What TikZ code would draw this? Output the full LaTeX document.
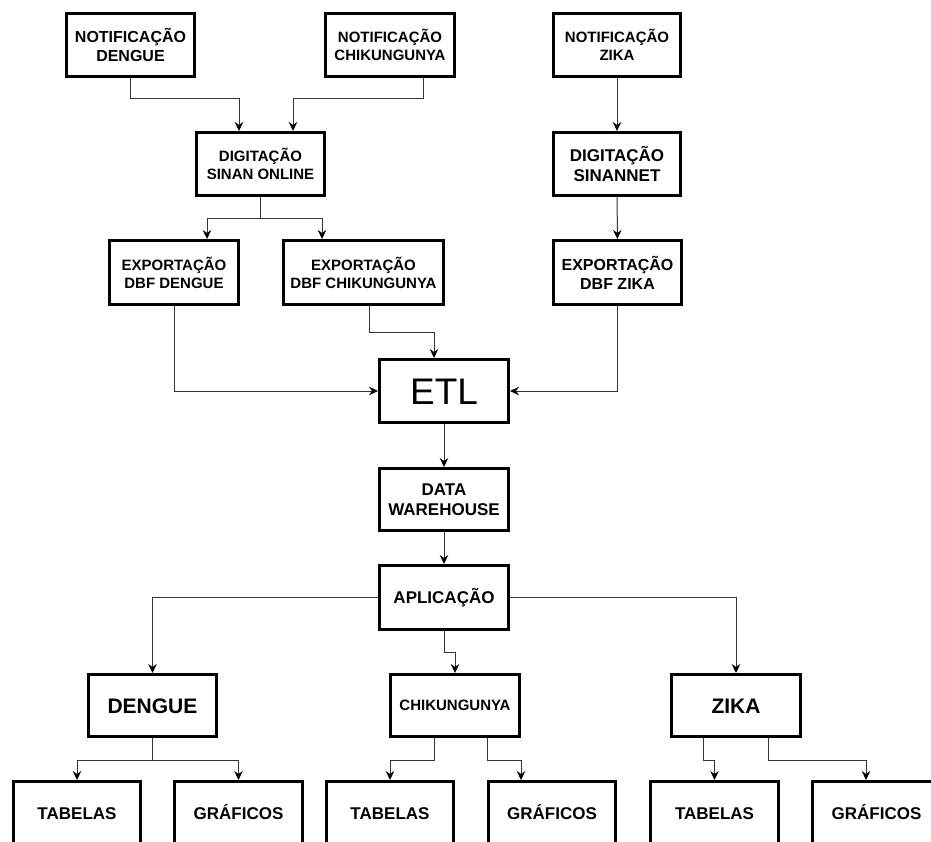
\documentclass[tikz,border=0pt]{standalone}
\usepackage{fontspec}
\setmainfont{Liberation Sans}
\usetikzlibrary{arrows.meta}
\tikzset{
  box/.style={draw=black, line width=3pt, rectangle, inner sep=0pt, align=center, font=\bfseries\fontsize{15}{18}\selectfont},
  one/.style={text height=#1, text depth=0pt},
  conn/.style={draw=black!80, line width=1pt, -{Stealth[length=9pt,width=8.5pt,inset=3pt,color=black]}},
}
\begin{document}
\begin{tikzpicture}[x=1pt,y=-1pt]
\useasboundingbox (0,0) rectangle (931,842);
\clip (0,0) rectangle (931,842);
\fill[white] (0,0) rectangle (931,842);
% row 1
\node[box, minimum width=128pt, minimum height=63pt, font=\bfseries\fontsize{16}{19}\selectfont] (nd) at (130.5,45) {NOTIFICAÇÃO\\DENGUE};
\node[box, minimum width=129pt, minimum height=63pt] (nc) at (390,45) {NOTIFICAÇÃO\\CHIKUNGUNYA};
\node[box, minimum width=127pt, minimum height=63pt] (nz) at (617,45) {NOTIFICAÇÃO\\ZIKA};
% row 2
\node[box, minimum width=128pt, minimum height=63pt] (ds) at (260.5,164) {DIGITAÇÃO\\SINAN ONLINE};
\node[box, minimum width=127pt, minimum height=63pt, font=\bfseries\fontsize{17}{20}\selectfont] (dn) at (617,164) {DIGITAÇÃO\\SINANNET};
% row 3
\node[box, minimum width=129pt, minimum height=64pt] (ed) at (174,272.5) {EXPORTAÇÃO\\DBF DENGUE};
\node[box, minimum width=160pt, minimum height=64pt] (ec) at (363.5,272.5) {EXPORTAÇÃO\\DBF CHIKUNGUNYA};
\node[box, minimum width=128pt, minimum height=64pt, font=\bfseries\fontsize{16}{19}\selectfont] (ez) at (617.5,272.5) {EXPORTAÇÃO\\DBF ZIKA};
% center column
\node[box, one=26.5pt, minimum width=129pt, minimum height=63pt, font=\fontsize{37}{40}\selectfont] (etl) at (444,391) {ETL};
\node[box, minimum width=129pt, minimum height=62pt, font=\bfseries\fontsize{17}{20}\selectfont] (dw) at (444,499.5) {DATA\\WAREHOUSE};
\node[box, one=12.2pt, minimum width=129pt, minimum height=64pt, font=\bfseries\fontsize{17}{20}\selectfont] (ap) at (444,597.5) {APLICAÇÃO};
% diseases
\node[box, one=15pt, minimum width=128pt, minimum height=62pt, font=\bfseries\fontsize{21}{24}\selectfont] (dg) at (152.5,705.5) {DENGUE};
\node[box, one=10.7pt, minimum width=129pt, minimum height=62pt] (ch) at (455,705.5) {CHIKUNGUNYA};
\node[box, one=15pt, minimum width=129pt, minimum height=62pt, font=\bfseries\fontsize{21}{24}\selectfont] (zk) at (736,705.5) {ZIKA};
% outputs
\tikzset{outb/.style={box, one=12.2pt, minimum width=127pt, minimum height=63pt, font=\bfseries\fontsize{17}{20}\selectfont}}
\node[outb] (t1) at (77,813) {TABELAS};
\node[outb, minimum width=128pt] (g1) at (238.5,813) {GRÁFICOS};
\node[outb] (t2) at (390,813) {TABELAS};
\node[outb] (g2) at (552,813) {GRÁFICOS};
\node[outb, minimum width=128pt] (t3) at (714.5,813) {TABELAS};
\node[outb, minimum width=128pt] (g3) at (876.5,813) {GRÁFICOS};
% connectors
\draw[conn] (nd.south) -- ++(0,21) -| ([xshift=-21.5pt]ds.north);
\draw[conn] ([xshift=33pt]nc.south) -- ++(0,21) -| ([xshift=32.5pt]ds.north);
\draw[conn] (nz) -- (dn);
\draw[conn] (ds.south) -- ++(0,22) -| ([xshift=33pt]ed.north);
\draw[conn] (ds.south) -- ++(0,22) -| ([xshift=-41.5pt]ec.north);
\draw[conn] (dn) -- (ez);
\draw[conn] (ed.south) |- (etl.west);
\draw[conn] ([xshift=5.5pt]ec.south) -- ++(0,26) -| ([xshift=-10pt]etl.north);
\draw[conn] (ez.south) |- (etl.east);
\draw[conn] (etl) -- (dw);
\draw[conn] (dw) -- (ap);
\draw[conn] (ap.west) -| (dg.north);
\draw[conn] (ap.east) -| (zk.north);
\draw[conn] (ap.south) -- ++(0,21) -| (ch.north);
\draw[conn] (dg.south) -- ++(0,22) -| (t1.north);
\draw[conn] (dg.south) -- ++(0,22) -| (g1.north);
\draw[conn] ([xshift=-21pt]ch.south) -- ++(0,22) -| (t2.north);
\draw[conn] ([xshift=32pt]ch.south) -- ++(0,22) -| ([xshift=-31pt]g2.north);
\draw[conn] ([xshift=-33pt]zk.south) -- ++(0,22) -| (t3.north);
\draw[conn] ([xshift=32pt]zk.south) -- ++(0,22) -| ([xshift=-10.5pt]g3.north);
\end{tikzpicture}
\end{document}
